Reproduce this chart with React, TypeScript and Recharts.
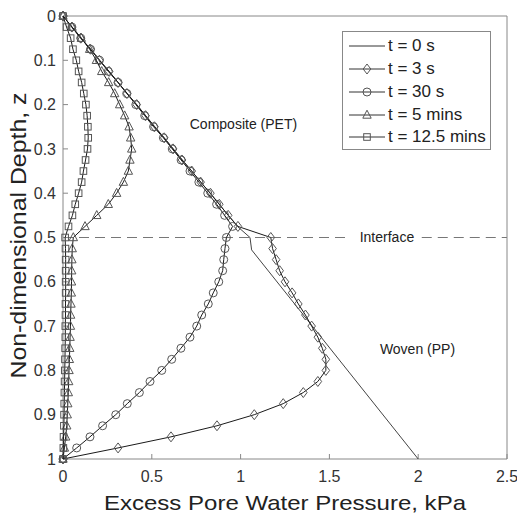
import React from "react";
import {
  ScatterChart,
  Scatter,
  XAxis,
  YAxis,
  ReferenceLine,
  ReferenceDot,
  Legend,
} from "recharts";

// depth grid used by the marked curves (z = 0 .. 1)
const DEPTH = [
  0, 0.025, 0.05, 0.075, 0.1, 0.125, 0.15, 0.175, 0.2, 0.225, 0.25, 0.275, 0.3, 0.325, 0.35, 0.375, 0.4,
  0.425, 0.45, 0.475, 0.5, 0.525, 0.55, 0.575, 0.6, 0.625, 0.65, 0.675, 0.7, 0.725, 0.75, 0.775, 0.8,
  0.825, 0.85, 0.875, 0.9, 0.925, 0.95, 0.975, 1,
];

// initial condition
const DEPTH_T0 = [0, 0.476, 0.5, 0.528, 1];
const P_T0 = [0, 0.985, 1.053, 1.062, 2];

const P_3S = [
  0, 0.05, 0.1, 0.155, 0.205, 0.26, 0.31, 0.36, 0.415, 0.465, 0.515, 0.57, 0.62, 0.67, 0.725, 0.775, 0.83,
  0.88, 0.93, 0.985, 1.17, 1.18, 1.2, 1.22, 1.25, 1.29, 1.325, 1.365, 1.4, 1.435, 1.46, 1.48, 1.48, 1.435,
  1.353, 1.24, 1.077, 0.867, 0.608, 0.31, 0,
];
const P_30S = [
  0, 0.05, 0.1, 0.155, 0.205, 0.255, 0.31, 0.36, 0.41, 0.46, 0.51, 0.565, 0.615, 0.665, 0.715, 0.765, 0.815,
  0.865, 0.91, 0.955, 0.92, 0.912, 0.905, 0.899, 0.877, 0.846, 0.818, 0.781, 0.753, 0.715, 0.664, 0.612,
  0.556, 0.49, 0.43, 0.362, 0.297, 0.223, 0.152, 0.077, 0,
];
const P_5MIN = [
  0, 0.051, 0.103, 0.15, 0.188, 0.218, 0.257, 0.291, 0.319, 0.347, 0.372, 0.381, 0.387, 0.377, 0.368, 0.34,
  0.302, 0.255, 0.19, 0.124, 0.058, 0.052, 0.05, 0.049, 0.048, 0.047, 0.045, 0.043, 0.042, 0.04, 0.038,
  0.036, 0.034, 0.032, 0.03, 0.027, 0.024, 0.021, 0.015, 0.008, 0,
];
const P_12MIN = [
  0, 0.02, 0.043, 0.056, 0.075, 0.088, 0.105, 0.117, 0.129, 0.136, 0.14, 0.142, 0.138, 0.127, 0.115, 0.105,
  0.088, 0.069, 0.053, 0.031, 0.012, 0.014, 0.015, 0.015, 0.015, 0.015, 0.014, 0.014, 0.013, 0.013, 0.012,
  0.011, 0.01, 0.009, 0.008, 0.007, 0.006, 0.005, 0.003, 0.002, 0,
];

const X_TICKS = [0, 0.5, 1, 1.5, 2, 2.5];
const Y_TICKS = [0, 0.1, 0.2, 0.3, 0.4, 0.5, 0.6, 0.7, 0.8, 0.9, 1];

type MarkerKind = "none" | "diamond" | "circle" | "triangle" | "square";

const SERIES: { name: string; depth: number[]; p: number[]; marker: MarkerKind }[] = [
  { name: "t = 0 s", depth: DEPTH_T0, p: P_T0, marker: "none" },
  { name: "t = 3 s", depth: DEPTH, p: P_3S, marker: "diamond" },
  { name: "t = 30 s", depth: DEPTH, p: P_30S, marker: "circle" },
  { name: "t = 5 mins", depth: DEPTH, p: P_5MIN, marker: "triangle" },
  { name: "t = 12.5 mins", depth: DEPTH, p: P_12MIN, marker: "square" },
];

const FONT = '"Liberation Sans", Arial, Helvetica, sans-serif';
const MARK = "#555";

function Marker({ kind, cx, cy }: { kind: MarkerKind; cx: number; cy: number }) {
  const common = { fill: "none", stroke: MARK, strokeWidth: 1 };
  switch (kind) {
    case "diamond":
      return <polygon points={`${cx},${cy - 5} ${cx + 3.8},${cy} ${cx},${cy + 5} ${cx - 3.8},${cy}`} {...common} />;
    case "circle":
      return <circle cx={cx} cy={cy} r={4} {...common} />;
    case "triangle":
      return <polygon points={`${cx},${cy - 4.8} ${cx + 4.2},${cy + 3.2} ${cx - 4.2},${cy + 3.2}`} {...common} />;
    case "square":
      return <rect x={cx - 3.3} y={cy - 3.3} width={6.6} height={6.6} {...common} />;
    default:
      return <g />;
  }
}

const XTitle = (props: any) => {
  const { viewBox } = props;
  const cx = viewBox.x + viewBox.width / 2;
  return (
    <text x={cx} y={viewBox.y + 51} textAnchor="middle" fontSize={21} fill="#222" fontFamily={FONT}
      textLength={362} lengthAdjust="spacingAndGlyphs">
      Excess Pore Water Pressure, kPa
    </text>
  );
};

const YTitle = (props: any) => {
  const { viewBox } = props;
  const cy = viewBox.y + viewBox.height / 2 - 2;
  return (
    <text x={26} y={cy} transform={`rotate(-90, 26, ${cy})`} textAnchor="middle" fontSize={22} fill="#222"
      fontFamily={FONT} textLength={286} lengthAdjust="spacingAndGlyphs">
      Non-dimensional Depth, z
    </text>
  );
};

const renderLegend = () => (
  <div
    style={{
      border: "1px solid #888",
      background: "#fff",
      boxSizing: "border-box",
      width: 149,
      height: 119,
      paddingTop: 3,
      fontFamily: FONT,
    }}
  >
    {SERIES.map((s) => (
      <div key={s.name} style={{ display: "flex", alignItems: "center", height: 22.75 }}>
        <svg width={39} height={22} style={{ marginLeft: 6, display: "block" }}>
          <line x1={0} x2={36} y1={11} y2={11} stroke="#333" strokeWidth={1} />
          <Marker kind={s.marker} cx={18} cy={11} />
        </svg>
        <span style={{ fontSize: 17, color: "#222", lineHeight: "22px" }}>{s.name}</span>
      </div>
    ))}
  </div>
);

const tickStyle = { fontSize: 16, fill: "#333", fontFamily: FONT };

export default function App() {
  return (
    <div style={{ position: "fixed", left: 0, top: 0, width: 517, height: 513, background: "#fff" }}>
      <ScatterChart width={517} height={513} margin={{ top: 15, right: 9, bottom: 0, left: 0 }} style={{ fontFamily: FONT }}>
        <XAxis
          type="number"
          dataKey="p"
          domain={[0, 2.5]}
          ticks={X_TICKS}
          height={54}
          tickSize={-5}
          tickMargin={17}
          tick={tickStyle}
          stroke="#888"
          label={<XTitle />}
        />
        <XAxis
          xAxisId="top"
          orientation="top"
          type="number"
          dataKey="p"
          domain={[0, 2.5]}
          ticks={X_TICKS}
          height={1}
          tickSize={-5}
          tick={false}
          stroke="#888"
        />
        <YAxis
          type="number"
          dataKey="z"
          domain={[0, 1]}
          reversed
          ticks={Y_TICKS}
          width={63}
          tickSize={-5}
          tickMargin={12}
          tick={tickStyle}
          stroke="#888"
          label={<YTitle />}
        />
        <YAxis
          yAxisId="right"
          orientation="right"
          type="number"
          dataKey="z"
          domain={[0, 1]}
          reversed
          ticks={Y_TICKS}
          width={1}
          tickSize={-5}
          tick={false}
          stroke="#888"
        />
        <ReferenceLine
          segment={[{ x: 0, y: 0.5 }, { x: 1.62, y: 0.5 }]}
          stroke="#777"
          strokeDasharray="10 6"
        />
        <ReferenceLine
          segment={[{ x: 2.02, y: 0.5 }, { x: 2.5, y: 0.5 }]}
          stroke="#777"
          strokeDasharray="10 6"
        />
        <ReferenceDot x={1.824} y={0.5} r={0} fill="none" stroke="none"
          label={{ value: "Interface", position: "center", fontSize: 14, fill: "#222" }} />
        <ReferenceDot x={1.016} y={0.244} r={0} fill="none" stroke="none"
          label={{ value: "Composite (PET)", position: "center", fontSize: 14, fill: "#222" }} />
        <ReferenceDot x={1.996} y={0.752} r={0} fill="none" stroke="none"
          label={{ value: "Woven (PP)", position: "center", fontSize: 14, fill: "#222" }} />
        {SERIES.map((s) => (
          <Scatter
            key={s.name}
            name={s.name}
            data={s.p.map((p, i) => ({ p, z: s.depth[i] }))}
            line={{ stroke: s.marker === "none" ? "#444" : "#1a1a1a", strokeWidth: 1 }}
            shape={(props: any) => <Marker kind={s.marker} cx={props.cx} cy={props.cy} />}
            isAnimationActive={false}
          />
        ))}
        <Legend
          layout="vertical"
          align="center"
          verticalAlign="middle"
          content={renderLegend}
          wrapperStyle={{ left: 342, top: 31, width: 149, height: 119 }}
        />
      </ScatterChart>
    </div>
  );
}
